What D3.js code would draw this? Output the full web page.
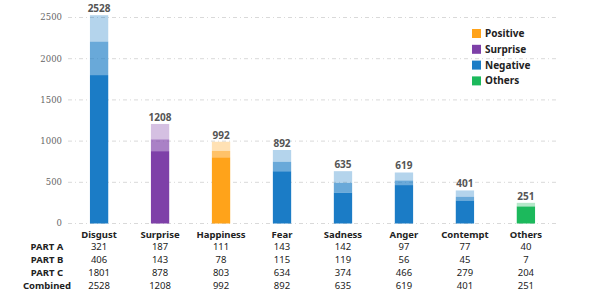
<!DOCTYPE html>
<html>
<head>
<meta charset="utf-8">
<script src="https://cdn.jsdelivr.net/npm/d3@7"></script>
<style>
    body { margin: 0; background: #fff; }
    svg { display: block; }
</style>
</head>
<body>
<div id="chart"></div>
<script>
const categories = ['Disgust', 'Surprise', 'Happiness', 'Fear', 'Sadness', 'Anger', 'Contempt', 'Others'];
const groups = ['Negative', 'Surprise', 'Positive', 'Negative', 'Negative', 'Negative', 'Negative', 'Others'];
const partA = [321, 187, 111, 143, 142, 97, 77, 40];
const partB = [406, 143, 78, 115, 119, 56, 45, 7];
const partC = [1801, 878, 803, 634, 374, 466, 279, 204];
const combined = [2528, 1208, 992, 892, 635, 619, 401, 251];
const yTicks = [0, 500, 1000, 1500, 2000, 2500];
const legendItems = ['Positive', 'Surprise', 'Negative', 'Others'];

const groupColor = {
    Positive: '#ffa31a',
    Surprise: '#7e40a8',
    Negative: '#1b7cc6',
    Others: '#1cb95c'
};

const width = 591, height = 296;

const svg = d3.select('#chart')
    .append('svg')
    .attr('width', width)
    .attr('height', height);

const x = d3.scaleBand()
    .domain(categories)
    .range([68, 557])
    .paddingInner(0.7)
    .paddingOuter(0.36);

const y = d3.scaleLinear()
    .domain([0, 2500])
    .range([223.5, 17.5]);

// grid + y labels
const grid = svg.append('g');
grid.selectAll('line')
    .data(yTicks)
    .enter()
    .append('line')
    .attr('x1', 68)
    .attr('x2', 558)
    .attr('y1', d => y(d))
    .attr('y2', d => y(d))
    .style('stroke', '#d9d9d9')
    .style('stroke-width', 1)
    .style('stroke-dasharray', '4,3,1,3');
grid.selectAll('text')
    .data(yTicks)
    .enter()
    .append('text')
    .attr('x', 62)
    .attr('y', d => y(d))
    .attr('dy', '0.35em')
    .style('text-anchor', 'end')
    .style('font-family', 'DejaVu Serif, serif')
    .style('font-size', '8.5px')
    .style('fill', '#666')
    .text(d => d);

// stacked bars: C bottom, B middle, A top
const rows = categories.map((c, i) => ({
    cat: c,
    group: groups[i],
    segs: [
        { y0: 0, y1: partC[i], op: 1 },
        { y0: partC[i], y1: partC[i] + partB[i], op: 0.66 },
        { y0: partC[i] + partB[i], y1: partC[i] + partB[i] + partA[i], op: 0.33 }
    ]
}));

const bars = svg.append('g');
rows.forEach(r => {
    bars.selectAll('.seg-' + r.cat)
        .data(r.segs)
        .enter()
        .append('rect')
        .attr('x', x(r.cat))
        .attr('width', x.bandwidth())
        .attr('y', d => y(d.y1))
        .attr('height', d => y(d.y0) - y(d.y1))
        .style('fill', groupColor[r.group])
        .style('fill-opacity', d => d.op);
});

// totals above bars
svg.append('g')
    .selectAll('text')
    .data(categories)
    .enter()
    .append('text')
    .attr('x', d => x(d) + x.bandwidth() / 2)
    .attr('y', (d, i) => y(combined[i]) - 3)
    .style('text-anchor', 'middle')
    .style('font-family', 'Noto Sans, sans-serif')
    .style('font-size', '10px')
    .style('font-weight', 'bold')
    .style('fill', '#555')
    .text((d, i) => combined[i]);

// legend
const legend = svg.append('g');
legend.selectAll('rect')
    .data(legendItems)
    .enter()
    .append('rect')
    .attr('x', 472)
    .attr('y', (d, i) => 29 + i * 15.8)
    .attr('width', 9)
    .attr('height', 9)
    .style('fill', d => groupColor[d]);
legend.selectAll('text')
    .data(legendItems)
    .enter()
    .append('text')
    .attr('x', 485)
    .attr('y', (d, i) => 33.5 + i * 15.8)
    .attr('dy', '0.35em')
    .style('font-family', 'Noto Sans, sans-serif')
    .style('font-size', '10px')
    .style('font-weight', 'bold')
    .style('fill', '#222')
    .text(d => d);

// data table
const table = svg.append('g')
    .style('font-family', 'Noto Sans, sans-serif')
    .style('font-size', '9.5px')
    .style('fill', '#222');

table.selectAll('.cat')
    .data(categories)
    .enter()
    .append('text')
    .attr('x', d => x(d) + x.bandwidth() / 2)
    .attr('y', 235)
    .attr('dy', '0.35em')
    .style('text-anchor', 'middle')
    .style('font-weight', 'bold')
    .text(d => d);

const tableRows = [
    { name: 'PART A', vals: partA },
    { name: 'PART B', vals: partB },
    { name: 'PART C', vals: partC },
    { name: 'Combined', vals: combined }
];

tableRows.forEach((r, j) => {
    const ry = 247 + j * 12.9;
    table.append('text')
        .attr('x', 47)
        .attr('y', ry)
        .attr('dy', '0.35em')
        .style('text-anchor', 'middle')
        .style('font-weight', 'bold')
        .text(r.name);
    table.selectAll('.v' + j)
        .data(categories)
        .enter()
        .append('text')
        .attr('x', d => x(d) + x.bandwidth() / 2)
        .attr('y', ry)
        .attr('dy', '0.35em')
        .style('text-anchor', 'middle')
        .text((d, i) => r.vals[i]);
});
</script>
</body>
</html>
